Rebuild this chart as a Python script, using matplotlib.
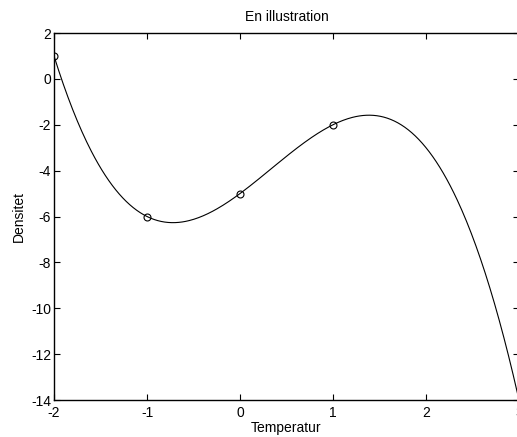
import numpy as np
import matplotlib
matplotlib.use("Agg")
import matplotlib.pyplot as plt

plt.rcParams['font.family'] = ['Liberation Sans', 'DejaVu Sans']
plt.rcParams['axes.unicode_minus'] = False

x_pts = [-2, -1, 0, 1]
y_pts = [1, -6, -5, -2]
xticks = [-2, -1, 0, 1, 2, 3]
yticks = [2, 0, -2, -4, -6, -8, -10, -12, -14]

coef = np.polyfit(x_pts, y_pts, 3)
xs = np.linspace(-2, 3, 400)
ys = np.polyval(coef, xs)

fig = plt.figure(figsize=(5.17, 4.37), dpi=100)
ax = fig.add_axes([54/517, 37/437, 465/517, 367/437])
ax.plot(xs, ys, color='black', lw=0.8)
ax.plot(x_pts, y_pts, 'o', mfc='none', mec='black', ms=5, mew=0.8)
ax.set_xlim(-2, 3)
ax.set_ylim(-14, 2)
ax.set_xticks(xticks)
ax.set_yticks(yticks)
ax.tick_params(direction='in', top=True, right=True, length=4, width=0.8, labelsize=10)
ax.tick_params(axis='x', pad=4)
ax.tick_params(axis='y', pad=2)
for s in ax.spines.values():
    s.set_linewidth(1.0)
ax.set_title('En illustration', fontsize=10, pad=8.5)
ax.set_xlabel('Temperatur', fontsize=10, labelpad=1)
ax.set_ylabel('Densitet', fontsize=10, labelpad=4)
fig.savefig('out.png', dpi=100)
